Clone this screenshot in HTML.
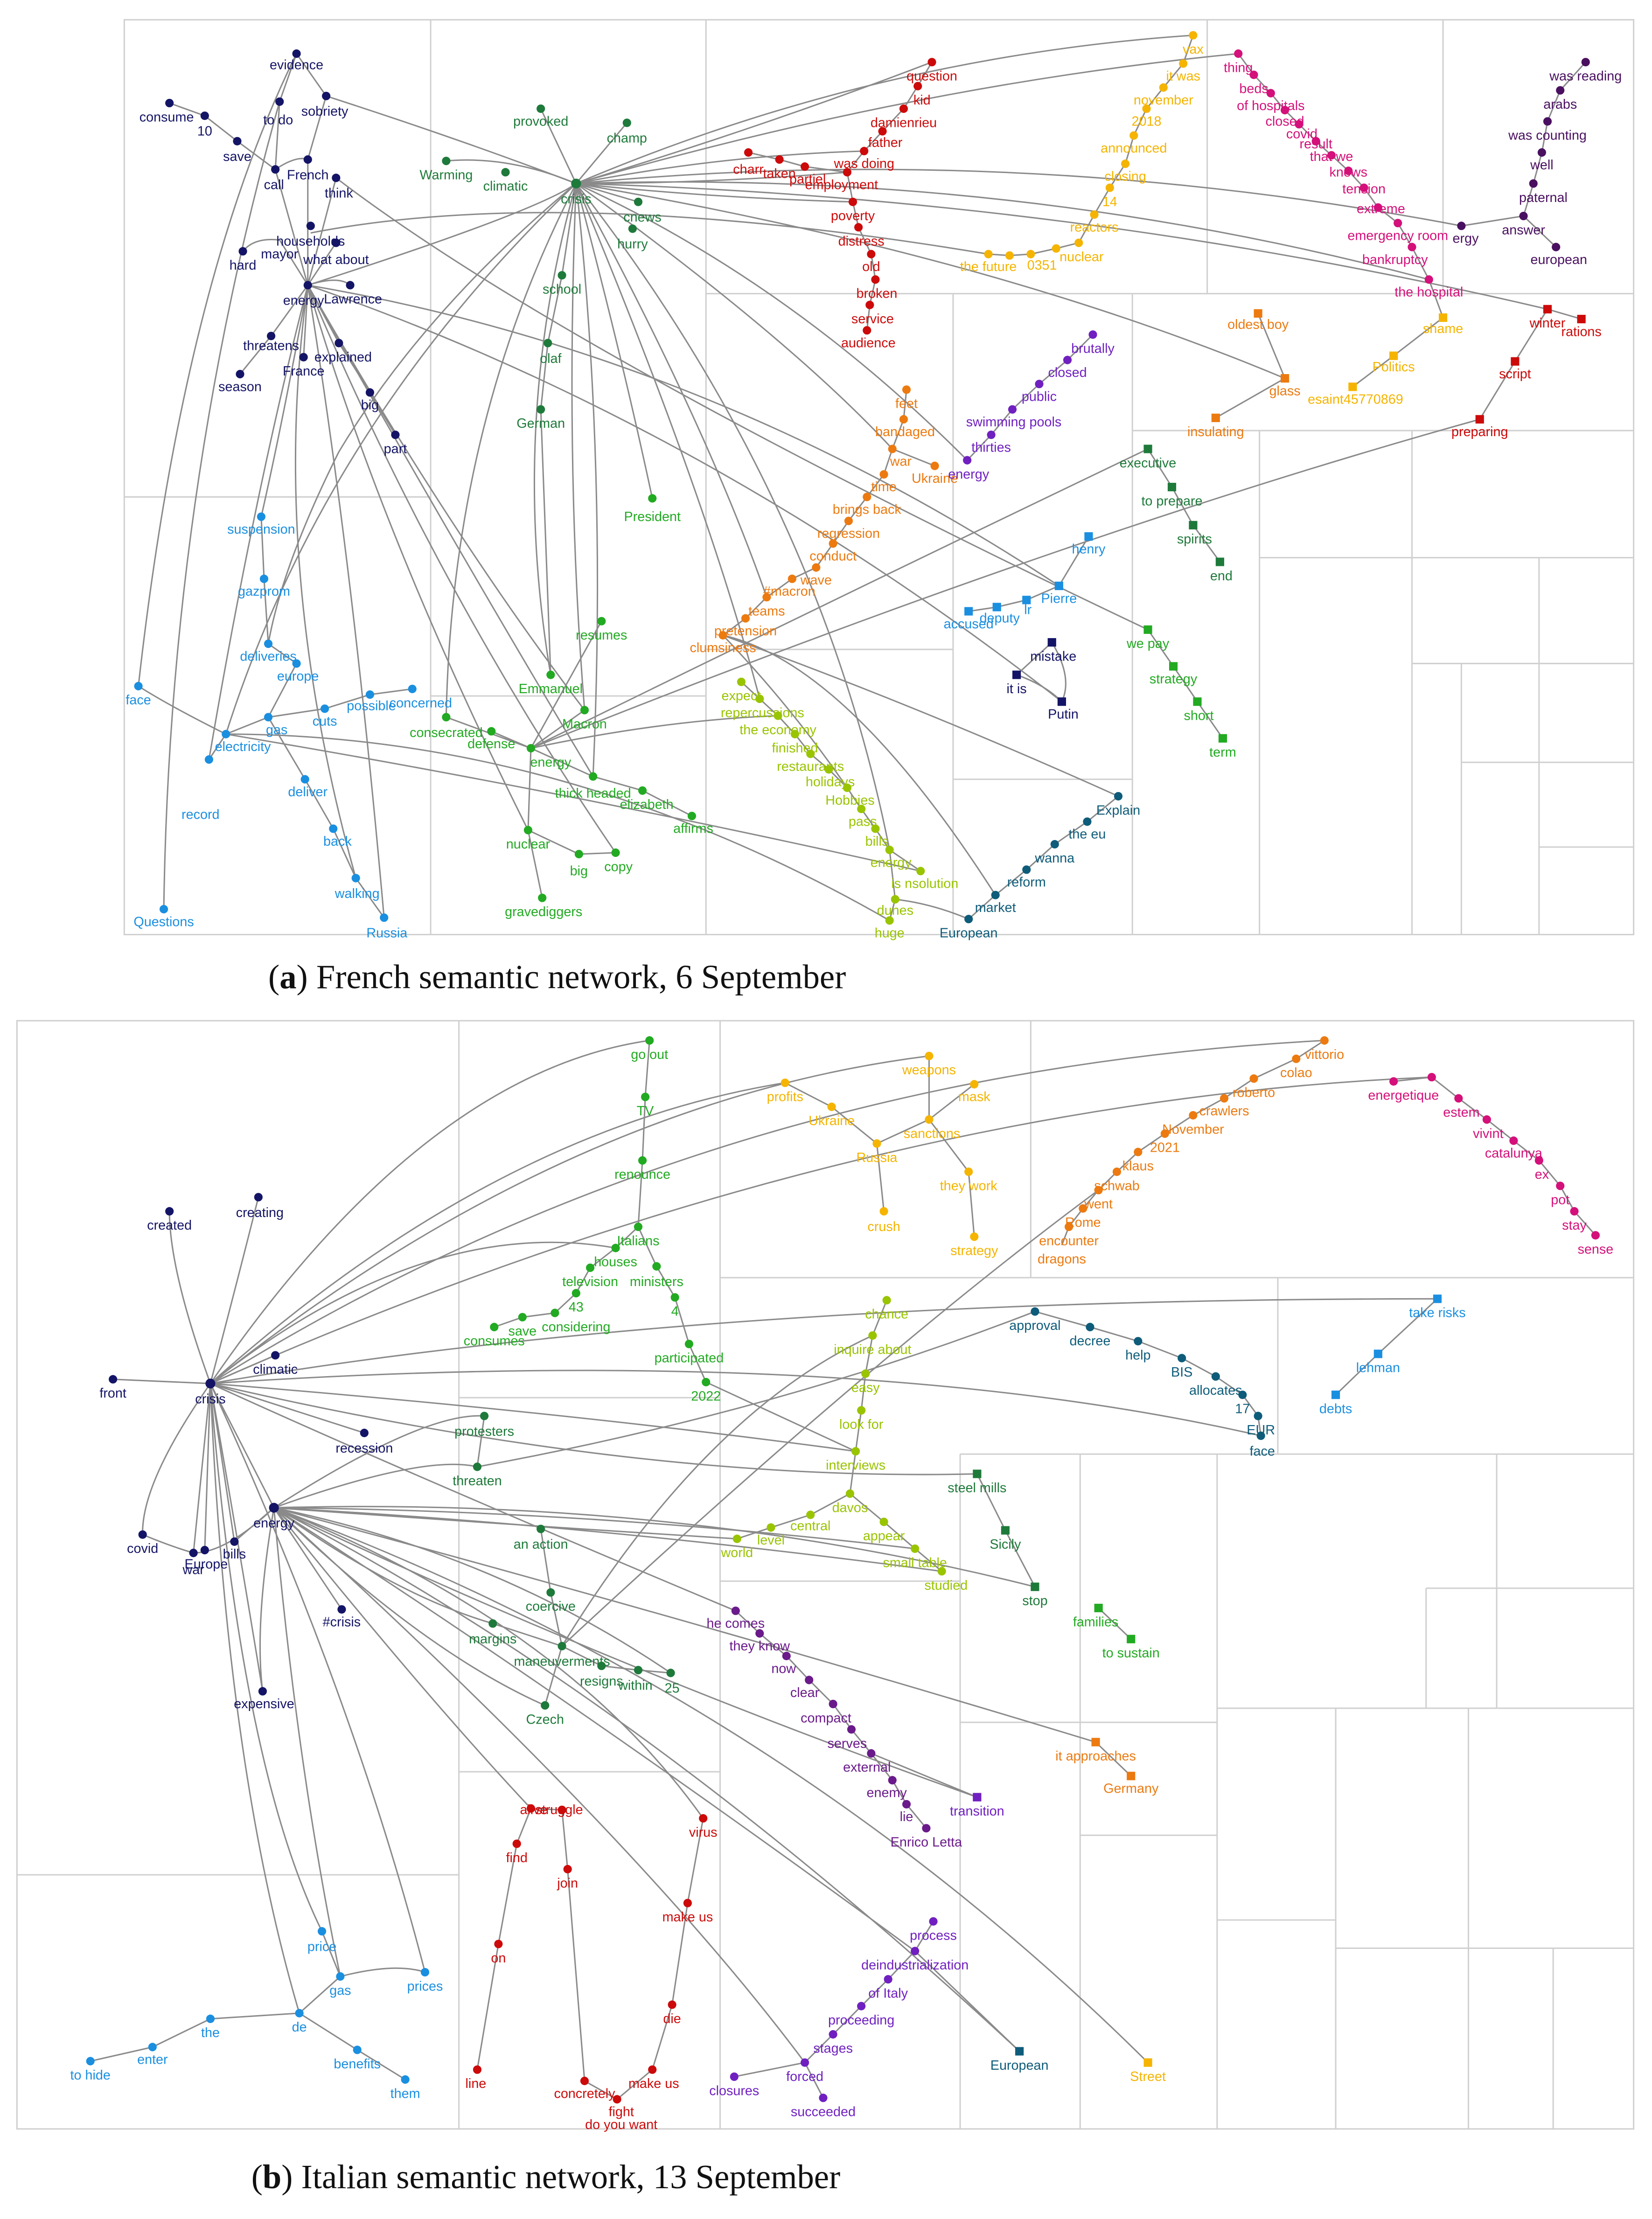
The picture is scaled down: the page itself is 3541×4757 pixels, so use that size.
<!DOCTYPE html>
<html><head><meta charset="utf-8"><style>
html,body{margin:0;padding:0;background:#fff;}
svg{display:block}
text{font-family:"Liberation Sans",Arial,sans-serif;font-size:9.5px;text-anchor:middle}
.e path,.e polyline{fill:none;stroke:#8a8a8a;stroke-width:1}
.t line,.t rect{stroke:#d0d0d0;stroke-width:1;fill:none}
.cap{font-family:"Liberation Serif",serif;font-size:24px;text-anchor:start;fill:#111}
</style></head><body>
<svg width="3541" height="4757" viewBox="0 0 1170 1571.8" xmlns="http://www.w3.org/2000/svg">
<rect width="1170" height="1572" fill="#fff"/>
<!-- treemap panel a -->
<g class="t">
<rect x="88" y="14" width="1069" height="648"/>
<line x1="305" y1="14" x2="305" y2="662"/><line x1="88" y1="352" x2="305" y2="352"/>
<line x1="305" y1="493" x2="500" y2="493"/><line x1="500" y1="14" x2="500" y2="662"/>
<line x1="500" y1="208" x2="675" y2="208"/><line x1="675" y1="208" x2="675" y2="662"/>
<line x1="855" y1="14" x2="855" y2="208"/><line x1="1022" y1="14" x2="1022" y2="208"/>
<line x1="675" y1="208" x2="1157" y2="208"/><line x1="802" y1="208" x2="802" y2="662"/>
<line x1="675" y1="552" x2="802" y2="552"/><line x1="802" y1="305" x2="1157" y2="305"/>
<line x1="892" y1="395" x2="1157" y2="395"/><line x1="892" y1="305" x2="892" y2="662"/>
<line x1="1000" y1="305" x2="1000" y2="662"/><line x1="1000" y1="470" x2="1157" y2="470"/>
<line x1="1035" y1="470" x2="1035" y2="662"/><line x1="1090" y1="395" x2="1090" y2="662"/>
<line x1="1035" y1="540" x2="1157" y2="540"/><line x1="1090" y1="600" x2="1157" y2="600"/>
<line x1="500" y1="460" x2="675" y2="460"/>
</g>
<!-- treemap panel b -->
<g class="t">
<rect x="12" y="723" width="1145" height="785"/>
<line x1="325" y1="723" x2="325" y2="1508"/><line x1="12" y1="1328" x2="325" y2="1328"/>
<line x1="510" y1="723" x2="510" y2="1508"/><line x1="325" y1="990" x2="510" y2="990"/>
<line x1="325" y1="1255" x2="510" y2="1255"/><line x1="730" y1="723" x2="730" y2="905"/>
<line x1="510" y1="905" x2="1157" y2="905"/><line x1="905" y1="905" x2="905" y2="1030"/>
<line x1="680" y1="1030" x2="1157" y2="1030"/><line x1="680" y1="1030" x2="680" y2="1508"/>
<line x1="765" y1="1030" x2="765" y2="1508"/><line x1="862" y1="1030" x2="862" y2="1508"/>
<line x1="680" y1="1220" x2="862" y2="1220"/><line x1="862" y1="1210" x2="1157" y2="1210"/>
<line x1="946" y1="1210" x2="946" y2="1508"/><line x1="1060" y1="1030" x2="1060" y2="1210"/>
<line x1="1010" y1="1125" x2="1157" y2="1125"/><line x1="1010" y1="1125" x2="1010" y2="1210"/>
<line x1="946" y1="1380" x2="1157" y2="1380"/><line x1="1040" y1="1210" x2="1040" y2="1508"/>
<line x1="862" y1="1360" x2="946" y2="1360"/><line x1="1100" y1="1380" x2="1100" y2="1508"/>
<line x1="765" y1="1300" x2="862" y2="1300"/><line x1="510" y1="1120" x2="680" y2="1120"/>
</g>
<!-- edges panel a -->
<g class="e">
<path d="M408,130 Q620,40 845,25"/><path d="M408,130 Q650,60 877,38"/>
<path d="M408,130 Q720,100 1035,160"/><path d="M408,130 Q720,120 1012,198"/>
<path d="M408,130 Q760,140 1096,219"/><path d="M408,130 Q560,200 685,326"/>
<path d="M408,130 Q560,240 632,318"/><path d="M408,130 Q230,300 160,520"/>
<path d="M408,130 Q320,300 316,508"/><path d="M408,130 Q360,300 390,478"/>
<path d="M408,130 Q400,330 414,503"/><path d="M408,130 Q430,330 420,550"/>
<path d="M408,130 Q440,250 462,353"/><path d="M408,130 Q500,300 543,423"/>
<path d="M408,130 Q500,350 538,495"/><path d="M408,130 Q580,350 630,602"/>
<path d="M408,130 Q300,220 240,320 Q200,400 190,456"/>
<path d="M408,130 Q540,90 660,44"/><path d="M408,130 Q510,110 612,107"/>
<path d="M408,130 Q500,130 600,122"/><path d="M408,130 Q500,140 604,143"/>
<path d="M231,68 Q330,100 408,130"/><path d="M316,114 Q360,110 408,130"/>
<path d="M408,130 L383,77"/><path d="M408,130 L444,87"/><path d="M408,130 L452,143"/><path d="M408,130 L398,195"/>
<path d="M398,195 L388,243 L383,290 L390,478"/>
<path d="M220,165 Q400,130 700,180"/>
<path d="M238,126 Q400,250 813,446"/>
<path d="M218,202 Q500,300 752,497"/><path d="M218,202 Q500,250 750,415"/>
<path d="M218,202 Q320,380 414,503"/><path d="M218,202 Q330,400 420,550"/>
<path d="M218,202 Q310,420 436,604"/><path d="M218,202 Q270,380 374,588"/>
<path d="M218,202 Q250,400 272,650"/><path d="M218,202 Q190,400 252,622"/>
<path d="M218,202 Q180,350 148,538"/><path d="M218,202 Q200,300 185,366"/>
<path d="M218,202 Q380,150 408,130"/>
<path d="M218,202 L192,238 L170,265"/><path d="M218,202 L240,243 L262,278 L280,308"/>
<path d="M218,202 L215,253"/><path d="M218,202 Q240,195 248,202"/>
<path d="M218,202 L195,120"/><path d="M218,202 L218,113"/><path d="M218,202 L238,126"/><path d="M218,202 L198,170"/><path d="M218,202 L238,172"/><path d="M198,170 Q180,168 172,178"/>
<path d="M210,38 L198,72 L195,120"/><path d="M210,38 L231,68 L218,113"/>
<path d="M120,73 L145,82 L168,100 L195,120 Q210,110 218,113"/>
<path d="M210,38 Q130,200 98,486"/><path d="M198,72 Q120,350 116,644"/>
<path d="M376,530 Q600,420 813,318"/><path d="M376,530 Q750,380 1048,297"/>
<path d="M376,530 Q470,510 551,507"/><path d="M376,530 L316,508"/><path d="M376,530 L348,518"/>
<path d="M376,530 L414,503"/><path d="M376,530 L420,550"/><path d="M376,530 L374,588 L384,636"/>
<path d="M376,530 L426,440"/><path d="M420,550 L455,560 L490,578"/><path d="M374,588 L410,605 L436,604"/>
<path d="M160,520 Q400,560 652,617"/><path d="M160,520 Q400,520 630,652"/>
<path d="M160,520 L190,508 L230,502 L262,492 L292,488"/><path d="M160,520 L148,538"/>
<path d="M190,508 L216,552 L236,587 L252,622 L272,650"/><path d="M185,366 L187,410 L190,456 L210,470 L190,508"/>
<path d="M98,486 Q120,500 160,520"/>
<path d="M512,450 Q600,470 705,634"/><path d="M512,450 Q560,500 600,558"/>
<path d="M512,450 Q650,500 792,564"/>
<path d="M910,268 Q700,180 408,130"/>
<polyline points="660,44 650,61 640,77 625,93 612,107 600,122 604,143 608,161 617,180 620,198 616,216 614,234"/>
<polyline points="530,108 552,113 570,118 600,122"/>
<polyline points="845,25 838,45 824,62 812,77 803,96 797,116 786,133 775,152 764,172 748,176 730,180 715,181 700,180"/>
<polyline points="877,38 888,53 900,66 910,78 920,88 932,100 943,110 955,121 966,133 976,147 990,158 1000,175 1012,198 1022,225"/>
<polyline points="1123,44 1105,64 1096,86 1092,108 1086,130 1079,153 1102,175"/><path d="M1079,153 L1035,160"/>
<polyline points="891,222 910,268 861,296"/><polyline points="1022,225 987,252 958,274"/>
<polyline points="1096,219 1120,226"/><polyline points="1096,219 1073,256 1048,297"/>
<polyline points="774,237 756,255 736,272 717,290 702,308 685,326"/>
<polyline points="642,276 640,297 632,318 662,330"/><polyline points="632,318 626,336 614,352 601,369 590,385 578,402 561,410 543,423 528,438 512,450"/>
<polyline points="813,318 830,345 845,372 864,398"/>
<polyline points="771,380 750,415 727,425 706,430 686,433"/>
<polyline points="745,455 720,478"/><path d="M745,455 Q760,480 752,497"/><path d="M720,478 Q740,485 752,497"/>
<polyline points="813,446 831,472 848,497 866,523"/>
<polyline points="525,483 538,495 551,507 563,520 574,534 587,545 600,558 610,573 620,587 630,602 652,617"/><polyline points="630,602 634,637 630,652"/>
<polyline points="792,564 770,582 747,598 727,616 705,634 686,651"/><path d="M686,651 Q660,640 634,637"/>
</g>
<!-- edges panel b -->
<g class="e">
<path d="M149,980 Q500,760 938,737"/><path d="M149,980 Q600,780 1014,763"/>
<path d="M149,980 Q350,800 556,767"/><path d="M149,980 Q400,780 658,748"/>
<path d="M149,980 Q300,760 460,737"/><path d="M149,980 Q300,860 436,884"/>
<path d="M149,980 Q600,950 893,1017"/><path d="M149,980 Q500,920 1018,920"/>
<path d="M149,980 Q400,1000 606,1028"/><path d="M149,980 Q450,1050 692,1044"/>
<path d="M149,980 Q120,900 120,858"/><path d="M149,980 Q170,900 183,848"/>
<path d="M149,980 L80,977"/><path d="M149,980 L195,960"/><path d="M149,980 L258,1015"/>
<path d="M149,980 Q100,1050 101,1087"/><path d="M149,980 L137,1100"/><path d="M149,980 L145,1098"/><path d="M149,980 L166,1092"/>
<path d="M149,980 Q170,1100 186,1198"/><path d="M149,980 Q170,1250 228,1368"/><path d="M149,980 Q160,1250 212,1426"/>
<path d="M149,980 Q250,1200 301,1397"/><path d="M149,980 L194,1068"/><path d="M149,980 Q280,1040 521,1141"/>
<path d="M194,1068 Q420,1080 667,1113"/><path d="M194,1068 Q420,1070 648,1097"/><path d="M194,1068 Q360,1080 522,1090"/>
<path d="M194,1068 Q480,1060 733,1124"/><path d="M194,1068 Q300,1030 338,1039"/>
<path d="M194,1068 Q280,1130 349,1150"/><path d="M194,1068 Q300,1170 386,1208"/>
<path d="M194,1068 Q400,1150 498,1288"/><path d="M194,1068 Q300,1200 376,1281"/>
<path d="M194,1068 Q450,1300 570,1461"/><path d="M194,1068 Q450,1200 722,1453"/>
<path d="M194,1068 Q550,1200 813,1461"/><path d="M194,1068 Q500,1150 776,1234"/>
<path d="M194,1068 Q430,1180 692,1273"/><path d="M194,1068 Q400,1200 648,1382"/>
<path d="M194,1068 L242,1140"/><path d="M194,1068 Q180,1150 186,1198"/>
<path d="M194,1068 Q210,1250 241,1400"/><path d="M194,1068 Q160,1100 137,1100"/><path d="M194,1068 L166,1092"/>
<path d="M194,1068 Q300,1000 343,1003"/><path d="M194,1068 Q350,1100 475,1185"/>
<path d="M398,1166 Q500,1000 618,946"/><path d="M398,1166 Q620,960 778,843"/>
<path d="M338,1039 Q550,1000 733,929"/>
<path d="M101,1087 Q120,1095 137,1100"/>
<polyline points="460,737 457,777 455,822 452,869 436,884 418,898 408,916 393,930 370,933 350,940"/><polyline points="452,869 465,897 478,919 488,952 500,979 606,1028"/>
<polyline points="343,1003 338,1039"/><polyline points="383,1083 390,1128 398,1166 386,1208"/><polyline points="349,1150 398,1166 426,1180 452,1183 475,1185"/>
<polyline points="556,767 589,784 621,810 626,858"/><polyline points="658,748 658,793 621,810"/><polyline points="690,768 658,793 686,830 690,876"/>
<polyline points="938,737 918,750 888,764 867,778 845,790 825,803 806,816 791,830 778,843 767,856 757,869 752,882"/>
<polyline points="987,766 1014,763 1033,778 1053,793 1072,808 1090,822 1105,840 1115,858 1130,875"/>
<polyline points="628,921 618,946 613,973 610,999 606,1028 602,1058 574,1073 546,1082 522,1090"/><polyline points="602,1058 626,1078 648,1097 667,1113"/>
<polyline points="733,929 772,940 806,950 837,962 861,975 880,988 891,1003 893,1017"/>
<polyline points="1018,920 976,959 946,988"/>
<polyline points="692,1044 712,1084 733,1124"/><polyline points="778,1139 801,1161"/>
<polyline points="521,1141 538,1157 557,1173 573,1190 590,1207 603,1225 617,1242 632,1261 642,1278 656,1295"/><path d="M617,1242 L692,1273"/>
<polyline points="776,1234 801,1258"/>
<polyline points="376,1281 366,1306 353,1377 338,1466"/><polyline points="376,1281 398,1282 402,1324 414,1474"/>
<polyline points="498,1288 487,1348 476,1420 462,1466 437,1487 414,1474"/>
<polyline points="661,1361 648,1382 629,1402 610,1421 590,1441 570,1461 520,1471"/><path d="M570,1461 L583,1486"/>
<path d="M648,1382 L722,1453"/>
<polyline points="228,1368 241,1400 212,1426 149,1430 108,1450 64,1460"/><polyline points="212,1426 253,1452 287,1473"/><path d="M241,1400 Q280,1390 301,1397"/>
</g>
<!-- nodes a -->
<g fill="#141466">
<circle cx="210" cy="38" r="3"/><text x="210" y="49">evidence</text>
<circle cx="198" cy="72" r="3"/><text x="197" y="88">to do</text>
<circle cx="120" cy="73" r="3"/><text x="118" y="86">consume</text>
<circle cx="145" cy="82" r="3"/><text x="145" y="96">10</text>
<circle cx="168" cy="100" r="3"/><text x="168" y="114">save</text>
<circle cx="231" cy="68" r="3"/><text x="230" y="82">sobriety</text>
<circle cx="195" cy="120" r="3"/><text x="194" y="134">call</text>
<circle cx="218" cy="113" r="3"/><text x="218" y="127">French</text>
<circle cx="238" cy="126" r="3"/><text x="240" y="140">think</text>
<circle cx="220" cy="160" r="3"/><text x="220" y="174">households</text>
<text x="198" y="183">mayor</text><circle cx="238" cy="172" r="3"/><text x="238" y="187">what about</text>
<circle cx="172" cy="178" r="3"/><text x="172" y="191">hard</text>
<circle cx="218" cy="202" r="3"/><text x="215" y="216">energy</text>
<circle cx="248" cy="202" r="3"/><text x="250" y="215">Lawrence</text>
<circle cx="192" cy="238" r="3"/><text x="192" y="248">threatens</text>
<circle cx="240" cy="243" r="3"/><text x="243" y="256">explained</text>
<circle cx="215" cy="253" r="3"/><text x="215" y="266">France</text>
<circle cx="170" cy="265" r="3"/><text x="170" y="277">season</text>
<circle cx="262" cy="278" r="3"/><text x="262" y="290">big</text>
<circle cx="280" cy="308" r="3"/><text x="280" y="321">part</text>
<rect x="742" y="452" width="6" height="6"/><text x="746" y="468">mistake</text>
<rect x="717" y="475" width="6" height="6"/><text x="720" y="491">it is</text>
<rect x="749" y="494" width="6" height="6"/><text x="753" y="509">Putin</text>
</g>
<g fill="#1e7a3a">
<circle cx="383" cy="77" r="3"/><text x="383" y="89">provoked</text>
<circle cx="444" cy="87" r="3"/><text x="444" y="101">champ</text>
<circle cx="316" cy="114" r="3"/><text x="316" y="127">Warming</text>
<circle cx="358" cy="122" r="3"/><text x="358" y="135">climatic</text>
<circle cx="408" cy="130" r="3.5"/><text x="408" y="144">crisis</text>
<circle cx="452" cy="143" r="3"/><text x="455" y="157">cnews</text>
<circle cx="448" cy="162" r="3"/><text x="448" y="176">hurry</text>
<circle cx="398" cy="195" r="3"/><text x="398" y="208">school</text>
<circle cx="388" cy="243" r="3"/><text x="390" y="257">olaf</text>
<circle cx="383" cy="290" r="3"/><text x="383" y="303">German</text>
<rect x="810" y="315" width="6" height="6"/><text x="813" y="331">executive</text>
<rect x="827" y="342" width="6" height="6"/><text x="830" y="358">to prepare</text>
<rect x="842" y="369" width="6" height="6"/><text x="846" y="385">spirits</text>
<rect x="861" y="395" width="6" height="6"/><text x="865" y="411">end</text>
</g>
<g fill="#22aa22">
<circle cx="462" cy="353" r="3"/><text x="462" y="369">President</text>
<circle cx="426" cy="440" r="3"/><text x="426" y="453">resumes</text>
<circle cx="390" cy="478" r="3"/><text x="390" y="491">Emmanuel</text>
<circle cx="414" cy="503" r="3"/><text x="414" y="516">Macron</text>
<circle cx="316" cy="508" r="3"/><text x="316" y="522">consecrated</text>
<circle cx="348" cy="518" r="3"/><text x="348" y="530">defense</text>
<circle cx="376" cy="530" r="3"/><text x="390" y="543">energy</text>
<circle cx="420" cy="550" r="3"/><text x="420" y="565">thick headed</text>
<circle cx="455" cy="560" r="3"/><text x="458" y="573">elizabeth</text>
<circle cx="490" cy="578" r="3"/><text x="491" y="590">affirms</text>
<circle cx="374" cy="588" r="3"/><text x="374" y="601">nuclear</text>
<circle cx="410" cy="605" r="3"/><text x="410" y="620">big</text>
<circle cx="436" cy="604" r="3"/><text x="438" y="617">copy</text>
<circle cx="384" cy="636" r="3"/><text x="385" y="649">gravediggers</text>
<rect x="810" y="443" width="6" height="6"/><text x="813" y="459">we pay</text>
<rect x="828" y="469" width="6" height="6"/><text x="831" y="484">strategy</text>
<rect x="845" y="494" width="6" height="6"/><text x="849" y="510">short</text>
<rect x="863" y="520" width="6" height="6"/><text x="866" y="536">term</text>
</g>
<g fill="#cc0a0a">
<circle cx="660" cy="44" r="3"/><text x="660" y="57">question</text>
<circle cx="650" cy="61" r="3"/><text x="653" y="74">kid</text>
<circle cx="640" cy="77" r="3"/><text x="640" y="90">damienrieu</text>
<circle cx="625" cy="93" r="3"/><text x="627" y="104">father</text>
<circle cx="612" cy="107" r="3"/><text x="612" y="119">was doing</text>
<circle cx="530" cy="108" r="3"/><text x="530" y="123">charr</text>
<circle cx="552" cy="113" r="3"/><text x="552" y="126">taken</text>
<circle cx="570" cy="118" r="3"/><text x="572" y="130">partiel</text>
<circle cx="600" cy="122" r="3"/><text x="596" y="134">employment</text>
<circle cx="604" cy="143" r="3"/><text x="604" y="156">poverty</text>
<circle cx="608" cy="161" r="3"/><text x="610" y="174">distress</text>
<circle cx="617" cy="180" r="3"/><text x="617" y="192">old</text>
<circle cx="620" cy="198" r="3"/><text x="621" y="211">broken</text>
<circle cx="616" cy="216" r="3"/><text x="618" y="229">service</text>
<circle cx="614" cy="234" r="3"/><text x="615" y="246">audience</text>
<rect x="1093" y="216" width="6" height="6"/><text x="1096" y="232">winter</text>
<rect x="1117" y="223" width="6" height="6"/><text x="1120" y="238">rations</text>
<rect x="1070" y="253" width="6" height="6"/><text x="1073" y="268">script</text>
<rect x="1045" y="294" width="6" height="6"/><text x="1048" y="309">preparing</text>
</g>
<g fill="#f5b400">
<circle cx="845" cy="25" r="3"/><text x="845" y="38">vax</text>
<circle cx="838" cy="45" r="3"/><text x="838" y="57">it was</text>
<circle cx="824" cy="62" r="3"/><text x="824" y="74">november</text>
<circle cx="812" cy="77" r="3"/><text x="812" y="89">2018</text>
<circle cx="803" cy="96" r="3"/><text x="803" y="108">announced</text>
<circle cx="797" cy="116" r="3"/><text x="797" y="128">closing</text>
<circle cx="786" cy="133" r="3"/><text x="786" y="146">14</text>
<circle cx="775" cy="152" r="3"/><text x="775" y="164">reactors</text>
<circle cx="764" cy="172" r="3"/><text x="766" y="185">nuclear</text>
<circle cx="748" cy="176" r="3"/><circle cx="730" cy="180" r="3"/><text x="738" y="191">0351</text>
<circle cx="715" cy="181" r="3"/><circle cx="700" cy="180" r="3"/><text x="700" y="192">the future</text>
<rect x="1019" y="222" width="6" height="6"/><text x="1022" y="236">shame</text>
<rect x="984" y="249" width="6" height="6"/><text x="987" y="263">Politics</text>
<rect x="955" y="271" width="6" height="6"/><text x="960" y="286">esaint45770869</text>
</g>
<g fill="#d4107a">
<circle cx="877" cy="38" r="3"/><text x="877" y="51">thing</text>
<circle cx="888" cy="53" r="3"/><text x="888" y="66">beds</text>
<circle cx="900" cy="66" r="3"/><text x="900" y="78">of hospitals</text>
<circle cx="910" cy="78" r="3"/><text x="910" y="89">closed</text>
<circle cx="920" cy="88" r="3"/><text x="922" y="98">covid</text>
<circle cx="932" cy="100" r="3"/><text x="932" y="105">result</text>
<circle cx="943" cy="110" r="3"/><text x="943" y="114">that we</text>
<circle cx="955" cy="121" r="3"/><text x="955" y="125">knows</text>
<circle cx="966" cy="133" r="3"/><text x="966" y="137">tension</text>
<circle cx="976" cy="147" r="3"/><text x="978" y="151">extreme</text>
<circle cx="990" cy="158" r="3"/><text x="990" y="170">emergency room</text>
<circle cx="1000" cy="175" r="3"/><text x="988" y="187">bankruptcy</text>
<circle cx="1012" cy="198" r="3"/><text x="1012" y="210">the hospital</text>
</g>
<g fill="#4a1060">
<circle cx="1123" cy="44" r="3"/><text x="1123" y="57">was reading</text>
<circle cx="1105" cy="64" r="3"/><text x="1105" y="77">arabs</text>
<circle cx="1096" cy="86" r="3"/><text x="1096" y="99">was counting</text>
<circle cx="1092" cy="108" r="3"/><text x="1092" y="120">well</text>
<circle cx="1086" cy="130" r="3"/><text x="1093" y="143">paternal</text>
<circle cx="1079" cy="153" r="3"/><text x="1079" y="166">answer</text>
<circle cx="1102" cy="175" r="3"/><text x="1104" y="187">european</text>
<circle cx="1035" cy="160" r="3"/><text x="1038" y="172">ergy</text>
</g>
<g fill="#ec7a10">
<rect x="888" y="219" width="6" height="6"/><text x="891" y="233">oldest boy</text>
<rect x="907" y="265" width="6" height="6"/><text x="910" y="280">glass</text>
<rect x="858" y="293" width="6" height="6"/><text x="861" y="309">insulating</text>
<circle cx="642" cy="276" r="3"/><text x="642" y="289">feet</text>
<circle cx="640" cy="297" r="3"/><text x="641" y="309">bandaged</text>
<circle cx="632" cy="318" r="3"/><text x="638" y="330">war</text>
<circle cx="662" cy="330" r="3"/><text x="662" y="342">Ukraine</text>
<circle cx="626" cy="336" r="3"/><text x="626" y="348">time</text>
<circle cx="614" cy="352" r="3"/><text x="614" y="364">brings back</text>
<circle cx="601" cy="369" r="3"/><text x="601" y="381">regression</text>
<circle cx="590" cy="385" r="3"/><text x="590" y="397">conduct</text>
<circle cx="578" cy="402" r="3"/><text x="578" y="414">wave</text>
<circle cx="561" cy="410" r="3"/><text x="559" y="422">#macron</text>
<circle cx="543" cy="423" r="3"/><text x="543" y="436">teams</text>
<circle cx="528" cy="438" r="3"/><text x="528" y="450">pretension</text>
<circle cx="512" cy="450" r="3"/><text x="512" y="462">clumsiness</text>
</g>
<g fill="#7020c0">
<circle cx="774" cy="237" r="3"/><text x="774" y="250">brutally</text>
<circle cx="756" cy="255" r="3"/><text x="756" y="267">closed</text>
<circle cx="736" cy="272" r="3"/><text x="736" y="284">public</text>
<circle cx="717" cy="290" r="3"/><text x="718" y="302">swimming pools</text>
<circle cx="702" cy="308" r="3"/><text x="702" y="320">thirties</text>
<circle cx="685" cy="326" r="3"/><text x="686" y="339">energy</text>
</g>
<g fill="#1a8fe0">
<rect x="768" y="377" width="6" height="6"/><text x="771" y="392">henry</text>
<rect x="747" y="412" width="6" height="6"/><text x="750" y="427">Pierre</text>
<rect x="724" y="422" width="6" height="6"/><text x="728" y="435">lr</text>
<rect x="703" y="427" width="6" height="6"/><text x="708" y="441">deputy</text>
<rect x="683" y="430" width="6" height="6"/><text x="686" y="445">accused</text>
<circle cx="185" cy="366" r="3"/><text x="185" y="378">suspension</text>
<circle cx="187" cy="410" r="3"/><text x="187" y="422">gazprom</text>
<circle cx="190" cy="456" r="3"/><text x="190" y="468">deliveries</text>
<circle cx="210" cy="470" r="3"/><text x="211" y="482">europe</text>
<circle cx="190" cy="508" r="3"/><text x="196" y="520">gas</text>
<circle cx="230" cy="502" r="3"/><text x="230" y="514">cuts</text>
<circle cx="262" cy="492" r="3"/><text x="263" y="503">possible</text>
<circle cx="292" cy="488" r="3"/><text x="298" y="501">concerned</text>
<circle cx="160" cy="520" r="3"/><text x="172" y="532">electricity</text>
<circle cx="148" cy="538" r="3"/><text x="142" y="580">record</text>
<circle cx="98" cy="486" r="3"/><text x="98" y="499">face</text>
<circle cx="216" cy="552" r="3"/><text x="218" y="564">deliver</text>
<circle cx="236" cy="587" r="3"/><text x="239" y="599">back</text>
<circle cx="252" cy="622" r="3"/><text x="253" y="636">walking</text>
<circle cx="272" cy="650" r="3"/><text x="274" y="664">Russia</text>
<circle cx="116" cy="644" r="3"/><text x="116" y="656">Questions</text>
</g>
<g fill="#99c400">
<circle cx="525" cy="483" r="3"/><text x="525" y="496">expect</text>
<circle cx="538" cy="495" r="3"/><text x="540" y="508">repercussions</text>
<circle cx="551" cy="507" r="3"/><text x="551" y="520">the economy</text>
<circle cx="563" cy="520" r="3"/><text x="563" y="533">finished</text>
<circle cx="574" cy="534" r="3"/><text x="574" y="546">restaurants</text>
<circle cx="587" cy="545" r="3"/><text x="588" y="557">holidays</text>
<circle cx="600" cy="558" r="3"/><text x="602" y="570">Hobbies</text>
<circle cx="610" cy="573" r="3"/><text x="611" y="585">pass</text>
<circle cx="620" cy="587" r="3"/><text x="621" y="599">bills</text>
<circle cx="630" cy="602" r="3"/><text x="631" y="614">energy</text>
<circle cx="652" cy="617" r="3"/><text x="655" y="629">is nsolution</text>
<circle cx="634" cy="637" r="3"/><text x="634" y="648">dunes</text>
<circle cx="630" cy="652" r="3"/><text x="630" y="664">huge</text>
</g>
<g fill="#0e5c7a">
<circle cx="792" cy="564" r="3"/><text x="792" y="577">Explain</text>
<circle cx="770" cy="582" r="3"/><text x="770" y="594">the eu</text>
<circle cx="747" cy="598" r="3"/><text x="747" y="611">wanna</text>
<circle cx="727" cy="616" r="3"/><text x="727" y="628">reform</text>
<circle cx="705" cy="634" r="3"/><text x="705" y="646">market</text>
<circle cx="686" cy="651" r="3"/><text x="686" y="664">European</text>
</g>
<!-- nodes b -->
<g fill="#141466">
<circle cx="120" cy="858" r="3"/><text x="120" y="871">created</text>
<circle cx="183" cy="848" r="3"/><text x="184" y="862">creating</text>
<circle cx="80" cy="977" r="3"/><text x="80" y="990">front</text>
<circle cx="149" cy="980" r="3.5"/><text x="149" y="994">crisis</text>
<circle cx="195" cy="960" r="3"/><text x="195" y="973">climatic</text>
<circle cx="258" cy="1015" r="3"/><text x="258" y="1029">recession</text>
<circle cx="101" cy="1087" r="3"/><text x="101" y="1100">covid</text>
<circle cx="137" cy="1100" r="3"/><text x="137" y="1115">war</text>
<circle cx="145" cy="1098" r="3"/><text x="146" y="1111">Europe</text>
<circle cx="166" cy="1092" r="3"/><text x="166" y="1104">bills</text>
<circle cx="194" cy="1068" r="3.5"/><text x="194" y="1082">energy</text>
<circle cx="242" cy="1140" r="3"/><text x="242" y="1152">#crisis</text>
<circle cx="186" cy="1198" r="3"/><text x="187" y="1210">expensive</text>
</g>
<g fill="#22aa22">
<circle cx="460" cy="737" r="3"/><text x="460" y="750">go out</text>
<circle cx="457" cy="777" r="3"/><text x="457" y="790">TV</text>
<circle cx="455" cy="822" r="3"/><text x="455" y="835">renounce</text>
<circle cx="452" cy="869" r="3"/><text x="452" y="882">Italians</text>
<circle cx="436" cy="884" r="3"/><text x="436" y="897">houses</text>
<circle cx="418" cy="898" r="3"/><text x="418" y="911">television</text>
<circle cx="465" cy="897" r="3"/><text x="465" y="911">ministers</text>
<circle cx="408" cy="916" r="3"/><text x="408" y="929">43</text>
<circle cx="393" cy="930" r="3"/><text x="408" y="943">considering</text>
<circle cx="370" cy="933" r="3"/><text x="370" y="946">save</text>
<circle cx="350" cy="940" r="3"/><text x="350" y="953">consumes</text>
<circle cx="478" cy="919" r="3"/><text x="478" y="932">4</text>
<circle cx="488" cy="952" r="3"/><text x="488" y="965">participated</text>
<circle cx="500" cy="979" r="3"/><text x="500" y="992">2022</text>
<rect x="775" y="1136" width="6" height="6"/><text x="776" y="1152">families</text>
<rect x="798" y="1158" width="6" height="6"/><text x="801" y="1174">to sustain</text>
</g>
<g fill="#1e7a3a">
<circle cx="343" cy="1003" r="3"/><text x="343" y="1017">protesters</text>
<circle cx="338" cy="1039" r="3"/><text x="338" y="1052">threaten</text>
<circle cx="383" cy="1083" r="3"/><text x="383" y="1097">an action</text>
<circle cx="390" cy="1128" r="3"/><text x="390" y="1141">coercive</text>
<circle cx="349" cy="1150" r="3"/><text x="349" y="1164">margins</text>
<circle cx="398" cy="1166" r="3"/><text x="398" y="1180">maneuverments</text>
<circle cx="426" cy="1180" r="3"/><text x="426" y="1194">resigns</text>
<circle cx="452" cy="1183" r="3"/><text x="450" y="1197">within</text>
<circle cx="475" cy="1185" r="3"/><text x="476" y="1199">25</text>
<circle cx="386" cy="1208" r="3"/><text x="386" y="1221">Czech</text>
<rect x="689" y="1041" width="6" height="6"/><text x="692" y="1057">steel mills</text>
<rect x="709" y="1081" width="6" height="6"/><text x="712" y="1097">Sicily</text>
<rect x="730" y="1121" width="6" height="6"/><text x="733" y="1137">stop</text>
</g>
<g fill="#f5b400">
<circle cx="556" cy="767" r="3"/><text x="556" y="780">profits</text>
<circle cx="589" cy="784" r="3"/><text x="589" y="797">Ukraine</text>
<circle cx="658" cy="748" r="3"/><text x="658" y="761">weapons</text>
<circle cx="690" cy="768" r="3"/><text x="690" y="780">mask</text>
<circle cx="658" cy="793" r="3"/><text x="660" y="806">sanctions</text>
<circle cx="621" cy="810" r="3"/><text x="621" y="823">Russia</text>
<circle cx="686" cy="830" r="3"/><text x="686" y="843">they work</text>
<circle cx="626" cy="858" r="3"/><text x="626" y="872">crush</text>
<circle cx="690" cy="876" r="3"/><text x="690" y="889">strategy</text>
<rect x="810" y="1458" width="6" height="6"/><text x="813" y="1474">Street</text>
</g>
<g fill="#ec7a10">
<circle cx="938" cy="737" r="3"/><text x="938" y="750">vittorio</text>
<circle cx="918" cy="750" r="3"/><text x="918" y="763">colao</text>
<circle cx="888" cy="764" r="3"/><text x="888" y="777">roberto</text>
<circle cx="867" cy="778" r="3"/><text x="867" y="790">crawlers</text>
<circle cx="845" cy="790" r="3"/><text x="845" y="803">November</text>
<circle cx="825" cy="803" r="3"/><text x="825" y="816">2021</text>
<circle cx="806" cy="816" r="3"/><text x="806" y="829">klaus</text>
<circle cx="791" cy="830" r="3"/><text x="791" y="843">schwab</text>
<circle cx="778" cy="843" r="3"/><text x="778" y="856">went</text>
<circle cx="767" cy="856" r="3"/><text x="767" y="869">Rome</text>
<circle cx="757" cy="869" r="3"/><text x="757" y="882">encounter</text>
<text x="752" y="895">dragons</text>
<rect x="773" y="1231" width="6" height="6"/><text x="776" y="1247">it approaches</text>
<rect x="798" y="1255" width="6" height="6"/><text x="801" y="1270">Germany</text>
</g>
<g fill="#d4107a">
<circle cx="987" cy="766" r="3"/><circle cx="1014" cy="763" r="3"/><text x="994" y="779">energetique</text>
<circle cx="1033" cy="778" r="3"/><text x="1035" y="791">estem</text>
<circle cx="1053" cy="793" r="3"/><text x="1054" y="806">vivint</text>
<circle cx="1072" cy="808" r="3"/><text x="1072" y="820">catalunya</text>
<circle cx="1090" cy="822" r="3"/><text x="1092" y="835">ex</text>
<circle cx="1105" cy="840" r="3"/><text x="1105" y="853">pot</text>
<circle cx="1115" cy="858" r="3"/><text x="1115" y="871">stay</text>
<circle cx="1130" cy="875" r="3"/><text x="1130" y="888">sense</text>
</g>
<g fill="#99c400">
<circle cx="628" cy="921" r="3"/><text x="628" y="934">chance</text>
<circle cx="618" cy="946" r="3"/><text x="618" y="959">inquire about</text>
<circle cx="613" cy="973" r="3"/><text x="613" y="986">easy</text>
<circle cx="610" cy="999" r="3"/><text x="610" y="1012">look for</text>
<circle cx="606" cy="1028" r="3"/><text x="606" y="1041">interviews</text>
<circle cx="602" cy="1058" r="3"/><text x="602" y="1071">davos</text>
<circle cx="574" cy="1073" r="3"/><text x="574" y="1084">central</text>
<circle cx="626" cy="1078" r="3"/><text x="626" y="1091">appear</text>
<circle cx="546" cy="1082" r="3"/><text x="546" y="1094">level</text>
<circle cx="522" cy="1090" r="3"/><text x="522" y="1103">world</text>
<circle cx="648" cy="1097" r="3"/><text x="648" y="1110">small table</text>
<circle cx="667" cy="1113" r="3"/><text x="670" y="1126">studied</text>
</g>
<g fill="#0e5c7a">
<circle cx="733" cy="929" r="3"/><text x="733" y="942">approval</text>
<circle cx="772" cy="940" r="3"/><text x="772" y="953">decree</text>
<circle cx="806" cy="950" r="3"/><text x="806" y="963">help</text>
<circle cx="837" cy="962" r="3"/><text x="837" y="975">BIS</text>
<circle cx="861" cy="975" r="3"/><text x="861" y="988">allocates</text>
<circle cx="880" cy="988" r="3"/><text x="880" y="1001">17</text>
<circle cx="891" cy="1003" r="3"/><text x="893" y="1016">EUR</text>
<circle cx="893" cy="1017" r="3"/><text x="894" y="1031">face</text>
<rect x="719" y="1450" width="6" height="6"/><text x="722" y="1466">European</text>
</g>
<g fill="#1a8fe0">
<rect x="1015" y="917" width="6" height="6"/><text x="1018" y="933">take risks</text>
<rect x="973" y="956" width="6" height="6"/><text x="976" y="972">lehman</text>
<rect x="943" y="985" width="6" height="6"/><text x="946" y="1001">debts</text>
<circle cx="228" cy="1368" r="3"/><text x="228" y="1382">price</text>
<circle cx="241" cy="1400" r="3"/><text x="241" y="1413">gas</text>
<circle cx="301" cy="1397" r="3"/><text x="301" y="1410">prices</text>
<circle cx="149" cy="1430" r="3"/><text x="149" y="1443">the</text>
<circle cx="212" cy="1426" r="3"/><text x="212" y="1439">de</text>
<circle cx="108" cy="1450" r="3"/><text x="108" y="1462">enter</text>
<circle cx="64" cy="1460" r="3"/><text x="64" y="1473">to hide</text>
<circle cx="253" cy="1452" r="3"/><text x="253" y="1465">benefits</text>
<circle cx="287" cy="1473" r="3"/><text x="287" y="1486">them</text>
</g>
<g fill="#6a1a8a">
<circle cx="521" cy="1141" r="3"/><text x="521" y="1153">he comes</text>
<circle cx="538" cy="1157" r="3"/><text x="538" y="1169">they know</text>
<circle cx="557" cy="1173" r="3"/><text x="555" y="1185">now</text>
<circle cx="573" cy="1190" r="3"/><text x="570" y="1202">clear</text>
<circle cx="590" cy="1207" r="3"/><text x="585" y="1220">compact</text>
<circle cx="603" cy="1225" r="3"/><text x="600" y="1238">serves</text>
<circle cx="617" cy="1242" r="3"/><text x="614" y="1255">external</text>
<circle cx="632" cy="1261" r="3"/><text x="628" y="1273">enemy</text>
<circle cx="642" cy="1278" r="3"/><text x="642" y="1290">lie</text>
<circle cx="656" cy="1295" r="3"/><text x="656" y="1308">Enrico Letta</text>
</g>
<g fill="#7020c0">
<rect x="689" y="1270" width="6" height="6"/><text x="692" y="1286">transition</text>
<circle cx="661" cy="1361" r="3"/><text x="661" y="1374">process</text>
<circle cx="648" cy="1382" r="3"/><text x="648" y="1395">deindustrialization</text>
<circle cx="629" cy="1402" r="3"/><text x="629" y="1415">of Italy</text>
<circle cx="610" cy="1421" r="3"/><text x="610" y="1434">proceeding</text>
<circle cx="590" cy="1441" r="3"/><text x="590" y="1454">stages</text>
<circle cx="570" cy="1461" r="3"/><text x="570" y="1474">forced</text>
<circle cx="520" cy="1471" r="3"/><text x="520" y="1484">closures</text>
<circle cx="583" cy="1486" r="3"/><text x="583" y="1499">succeeded</text>
</g>
<g fill="#cc0a0a">
<circle cx="376" cy="1281" r="3"/><text x="378" y="1285">alive</text>
<circle cx="398" cy="1282" r="3"/><text x="396" y="1285">struggle</text>
<circle cx="366" cy="1306" r="3"/><text x="366" y="1319">find</text>
<circle cx="402" cy="1324" r="3"/><text x="402" y="1337">join</text>
<circle cx="353" cy="1377" r="3"/><text x="353" y="1390">on</text>
<circle cx="338" cy="1466" r="3"/><text x="337" y="1479">line</text>
<circle cx="498" cy="1288" r="3"/><text x="498" y="1301">virus</text>
<circle cx="487" cy="1348" r="3"/><text x="487" y="1361">make us</text>
<circle cx="476" cy="1420" r="3"/><text x="476" y="1433">die</text>
<circle cx="462" cy="1466" r="3"/><text x="463" y="1479">make us</text>
<circle cx="414" cy="1474" r="3"/><text x="414" y="1486">concretely</text>
<circle cx="437" cy="1487" r="3"/><text x="440" y="1499">fight</text>
<text x="440" y="1508">do you want</text>
</g>
<!-- captions -->
<text class="cap" x="190" y="700">(<tspan font-weight="bold">a</tspan>) French semantic network, 6 September</text>
<text class="cap" x="178" y="1550">(<tspan font-weight="bold">b</tspan>) Italian semantic network, 13 September</text>
</svg>
</body></html>
